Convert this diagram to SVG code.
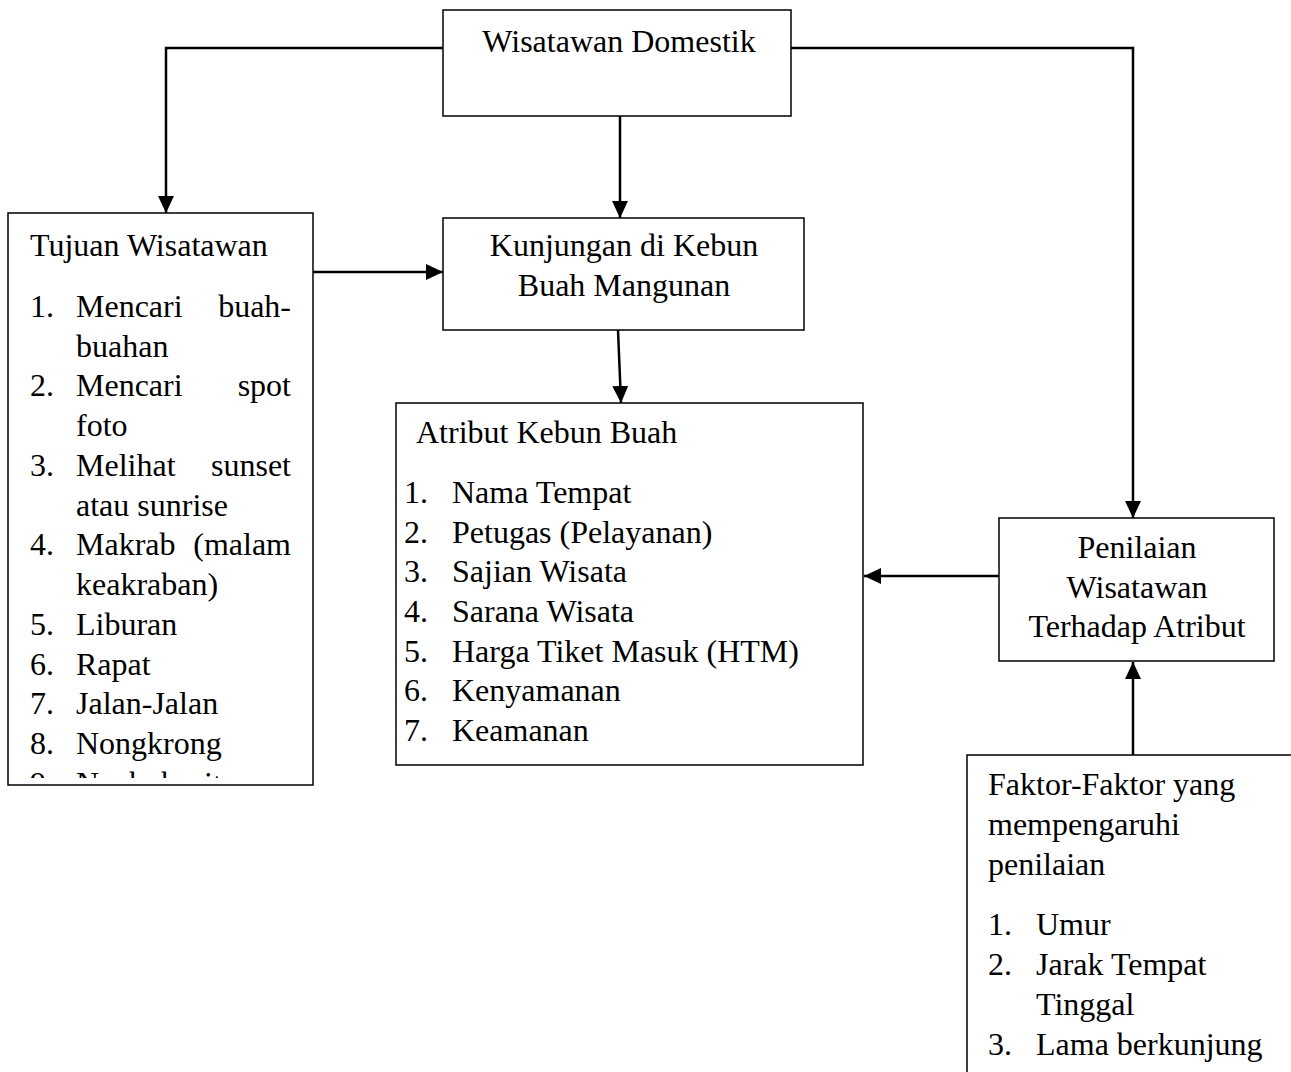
<svg xmlns="http://www.w3.org/2000/svg" width="1291" height="1072" viewBox="0 0 1291 1072">
<style>
.box{fill:#fff;stroke:#000;stroke-width:1.5}
.t{font-family:"Liberation Serif","Times New Roman",serif;font-size:32px;fill:#000}
.c{text-anchor:middle}
.e{text-anchor:end}
.ln{fill:none;stroke:#000;stroke-width:2.5}
</style>
<defs>
<marker id="arr" markerUnits="userSpaceOnUse" markerWidth="18" markerHeight="16" refX="17" refY="8" orient="auto">
<path d="M0,0 L17,8 L0,16 Z" fill="#000"/>
</marker>
<clipPath id="clipT"><rect x="9" y="214" width="303" height="564"/></clipPath>
</defs>
<rect width="1291" height="1072" fill="#fff"/>
<g id="connectors">
<polyline class="ln" points="443,48 166,48 166,213" marker-end="url(#arr)"/>
<polyline class="ln" points="791,48 1133,48 1133,518" marker-end="url(#arr)"/>
<line class="ln" x1="620" y1="116" x2="620" y2="218" marker-end="url(#arr)"/>
<line class="ln" x1="313" y1="272" x2="443" y2="272" marker-end="url(#arr)"/>
<line class="ln" x1="618" y1="330" x2="621" y2="403" marker-end="url(#arr)"/>
<line class="ln" x1="999" y1="576" x2="864" y2="576" marker-end="url(#arr)"/>
<line class="ln" x1="1133" y1="755" x2="1133" y2="662" marker-end="url(#arr)"/>
</g>
<g id="wisatawan">
<rect class="box" x="443" y="10" width="348" height="106"/>
<text class="t c" x="619" y="52">Wisatawan Domestik</text>
</g>
<g id="tujuan">
<rect class="box" x="8" y="213" width="305" height="572"/>
<text class="t" x="30" y="256">Tujuan Wisatawan</text>
<g clip-path="url(#clipT)">
<text class="t" x="30" y="317">1.</text><text class="t" x="76" y="317">Mencari</text><text class="t e" x="291" y="317">buah-</text>
<text class="t" x="76" y="357">buahan</text>
<text class="t" x="30" y="396">2.</text><text class="t" x="76" y="396">Mencari</text><text class="t e" x="291" y="396">spot</text>
<text class="t" x="76" y="436">foto</text>
<text class="t" x="30" y="476">3.</text><text class="t" x="76" y="476">Melihat</text><text class="t e" x="291" y="476">sunset</text>
<text class="t" x="76" y="516">atau sunrise</text>
<text class="t" x="30" y="555">4.</text><text class="t" x="76" y="555">Makrab</text><text class="t e" x="291" y="555">(malam</text>
<text class="t" x="76" y="595">keakraban)</text>
<text class="t" x="30" y="635">5.</text><text class="t" x="76" y="635">Liburan</text>
<text class="t" x="30" y="675">6.</text><text class="t" x="76" y="675">Rapat</text>
<text class="t" x="30" y="714">7.</text><text class="t" x="76" y="714">Jalan-Jalan</text>
<text class="t" x="30" y="754">8.</text><text class="t" x="76" y="754">Nongkrong</text>
<text class="t" x="30" y="794">9.</text><text class="t" x="76" y="794">Ngabuburit</text>
</g>
</g>
<g id="kunjungan">
<rect class="box" x="443" y="218" width="361" height="112"/>
<text class="t c" x="624" y="256">Kunjungan di Kebun</text>
<text class="t c" x="624" y="296">Buah Mangunan</text>
</g>
<g id="atribut">
<rect class="box" x="396" y="403" width="467" height="362"/>
<text class="t" x="416" y="443">Atribut Kebun Buah</text>
<text class="t" x="404" y="503">1.</text><text class="t" x="452" y="503">Nama Tempat</text>
<text class="t" x="404" y="543">2.</text><text class="t" x="452" y="543">Petugas (Pelayanan)</text>
<text class="t" x="404" y="582">3.</text><text class="t" x="452" y="582">Sajian Wisata</text>
<text class="t" x="404" y="622">4.</text><text class="t" x="452" y="622">Sarana Wisata</text>
<text class="t" x="404" y="662">5.</text><text class="t" x="452" y="662">Harga Tiket Masuk (HTM)</text>
<text class="t" x="404" y="701">6.</text><text class="t" x="452" y="701">Kenyamanan</text>
<text class="t" x="404" y="741">7.</text><text class="t" x="452" y="741">Keamanan</text>
</g>
<g id="penilaian">
<rect class="box" x="999" y="518" width="275" height="143"/>
<text class="t c" x="1137" y="558">Penilaian</text>
<text class="t c" x="1137" y="598">Wisatawan</text>
<text class="t c" x="1137" y="637">Terhadap Atribut</text>
</g>
<g id="faktor">
<rect class="box" x="967" y="755" width="400" height="400"/>
<text class="t" x="988" y="795">Faktor-Faktor yang</text>
<text class="t" x="988" y="835">mempengaruhi</text>
<text class="t" x="988" y="875">penilaian</text>
<text class="t" x="988" y="935">1.</text><text class="t" x="1036" y="935">Umur</text>
<text class="t" x="988" y="975">2.</text><text class="t" x="1036" y="975">Jarak Tempat</text>
<text class="t" x="1036" y="1015">Tinggal</text>
<text class="t" x="988" y="1055">3.</text><text class="t" x="1036" y="1055">Lama berkunjung</text>
</g>
</svg>
